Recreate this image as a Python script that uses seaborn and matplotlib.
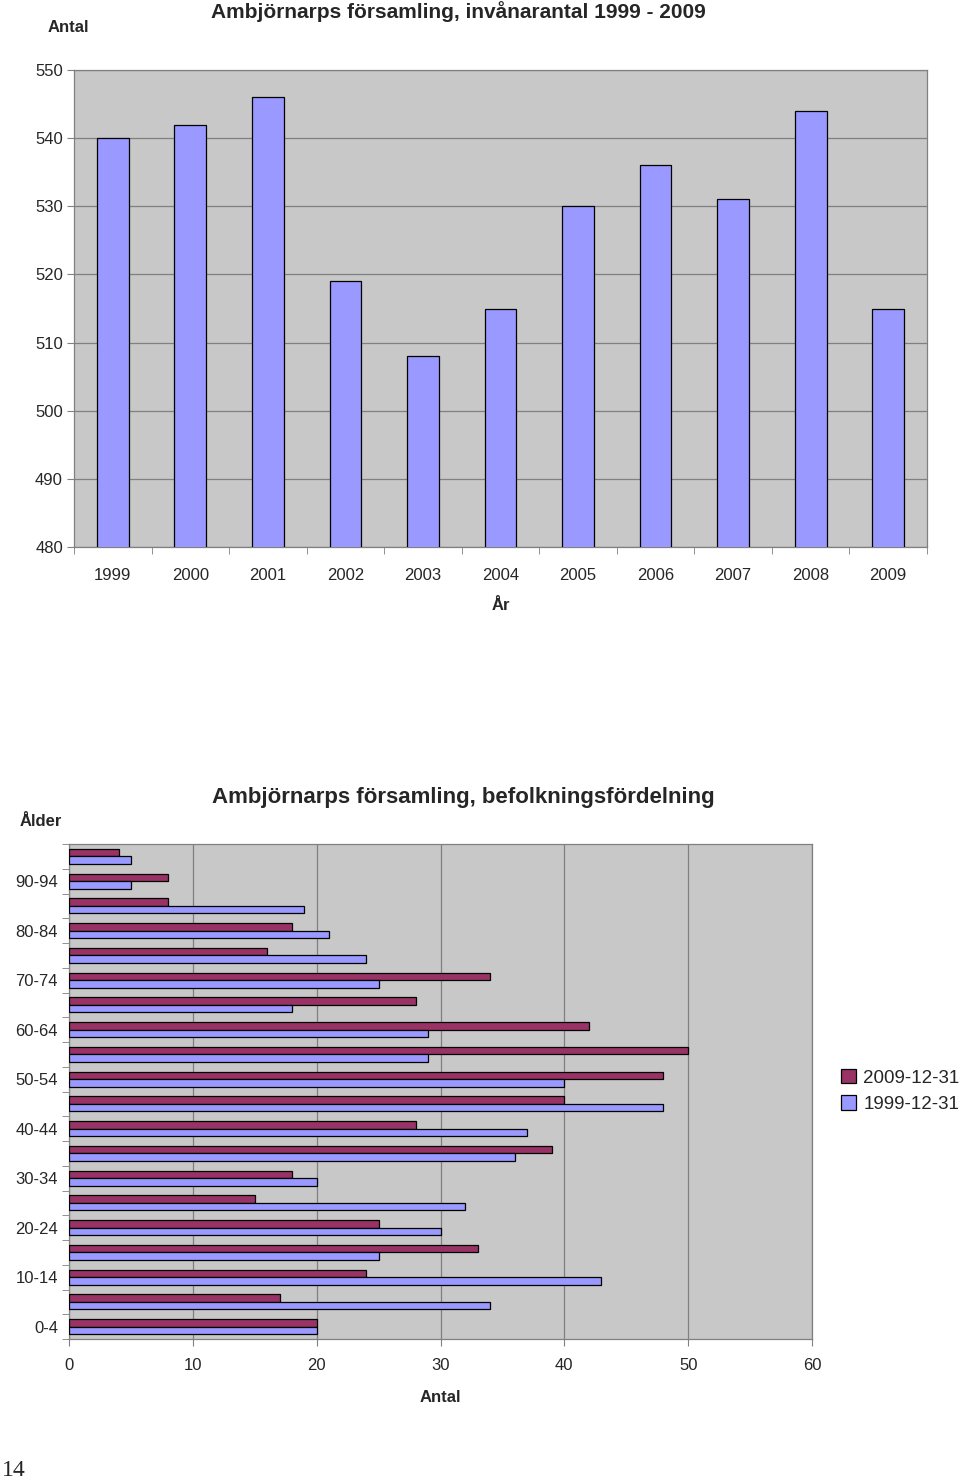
import matplotlib
matplotlib.use('Agg')
import matplotlib.pyplot as plt
import numpy as np
import pandas as pd
import seaborn as sns

# --- data ---
years = ['1999', '2000', '2001', '2002', '2003', '2004', '2005', '2006', '2007', '2008', '2009']
inhabitants = [540, 542, 546, 519, 508, 515, 530, 536, 531, 544, 515]

# age groups from top to bottom in the chart
age_groups = ['95-99', '90-94', '85-89', '80-84', '75-79', '70-74', '65-69', '60-64',
              '55-59', '50-54', '45-49', '40-44', '35-39', '30-34', '25-29', '20-24',
              '15-19', '10-14', '5-9', '0-4']
count_2009 = [4, 8, 8, 18, 16, 34, 28, 42, 50, 48, 40, 28, 39, 18, 15, 25, 33, 24, 17, 20]
count_1999 = [5, 5, 19, 21, 24, 25, 18, 29, 29, 40, 48, 37, 36, 20, 32, 30, 25, 43, 34, 20]
series = ['2009-12-31', '1999-12-31']
colors = ['#993366', '#9999FF']

sns.set_style('white')
plt.rcParams['font.family'] = ['Liberation Sans', 'DejaVu Sans']

fig = plt.figure(figsize=(9.6, 14.82), dpi=100)
grid_col = '#808080'
bg_col = '#C8C8C8'

# ---------- top chart ----------
ax1 = fig.add_axes([74 / 960, 1 - 547 / 1482, 853 / 960, 477 / 1482])
ax1.set_facecolor(bg_col)
sns.barplot(x=years, y=inhabitants, color='#9999FF', edgecolor='black',
            linewidth=0.9, width=0.41, saturation=1, ax=ax1, zorder=3)
ax1.set_ylim(480, 550)
ax1.set_yticks(range(480, 551, 10))
ax1.set_xlim(-0.5, len(years) - 0.5)
ax1.grid(axis='y', color=grid_col, linewidth=0.9, zorder=0)
ax1.set_axisbelow(True)
for s in ax1.spines.values():
    s.set_color(grid_col)
    s.set_linewidth(0.9)
ax1.set_xticks(np.arange(len(years) + 1) - 0.5, minor=True)
ax1.tick_params(axis='x', which='minor', length=5, color=grid_col, direction='out', bottom=True)
ax1.tick_params(axis='x', which='major', length=0, labelsize=12, pad=15)
ax1.tick_params(axis='y', which='major', length=5, color=grid_col, direction='out', left=True,
                labelsize=12, pad=3)
ax1.set_xlabel('År', fontsize=12, fontweight='bold', labelpad=11)
ax1.set_ylabel('')
fig.text(458 / 960, 1 - 12 / 1482, 'Ambjörnarps församling, invånarantal 1999 - 2009',
         ha='center', va='center', fontsize=15, fontweight='bold')
fig.text(68 / 960, 1 - 27 / 1482, 'Antal', ha='center', va='center',
         fontsize=12, fontweight='bold')

# ---------- bottom chart ----------
df = pd.DataFrame({
    'Ålder': age_groups * 2,
    'Antal': count_2009 + count_1999,
    'Datum': [series[0]] * len(age_groups) + [series[1]] * len(age_groups),
})

ax2 = fig.add_axes([69 / 960, 1 - 1339 / 1482, 743 / 960, 495 / 1482])
ax2.set_facecolor(bg_col)
sns.barplot(data=df, x='Antal', y='Ålder', hue='Datum', order=age_groups,
            hue_order=series, palette=colors, orient='h', width=0.6,
            edgecolor='black', linewidth=0.9, saturation=1, ax=ax2, zorder=3)
ax2.set_xlim(0, 60)
ax2.set_xticks(range(0, 61, 10))
ax2.set_ylim(len(age_groups) - 0.5, -0.5)
ax2.grid(axis='x', color=grid_col, linewidth=0.9, zorder=0)
ax2.set_axisbelow(True)
for s in ax2.spines.values():
    s.set_color(grid_col)
    s.set_linewidth(0.9)
label_pos = [i for i in range(len(age_groups)) if i % 2 == 1]
ax2.set_yticks(label_pos)
ax2.set_yticklabels([age_groups[i] for i in label_pos])
ax2.set_yticks(np.arange(len(age_groups) + 1) - 0.5, minor=True)
ax2.tick_params(axis='y', which='minor', length=5, color=grid_col, direction='out', left=True)
ax2.tick_params(axis='y', which='major', length=0, labelsize=12, pad=8)
ax2.tick_params(axis='x', which='major', length=5, color=grid_col, direction='out', bottom=True,
                labelsize=12, pad=9)
ax2.set_xlabel('Antal', fontsize=12, fontweight='bold', labelpad=12)
ax2.set_ylabel('')

handles, labels = ax2.get_legend_handles_labels()
ax2.legend_.remove()
fig.legend(handles, labels, loc='center left', bbox_to_anchor=(841 / 960, 1 - 1091 / 1482),
           frameon=False, fontsize=13.5, handlelength=0.8, handleheight=0.8,
           handletextpad=0.4, labelspacing=0.45, borderaxespad=0, borderpad=0)

fig.text(463 / 960, 1 - 798 / 1482, 'Ambjörnarps församling, befolkningsfördelning',
         ha='center', va='center', fontsize=16, fontweight='bold')
fig.text(41 / 960, 1 - 822 / 1482, 'Ålder', ha='center', va='center',
         fontsize=12, fontweight='bold')

fig.text(14 / 960, 1 - 1470 / 1482, '14', ha='center', va='center', fontsize=17,
         family=['Liberation Serif', 'DejaVu Serif'])

fig.savefig('out.png', dpi=100)
